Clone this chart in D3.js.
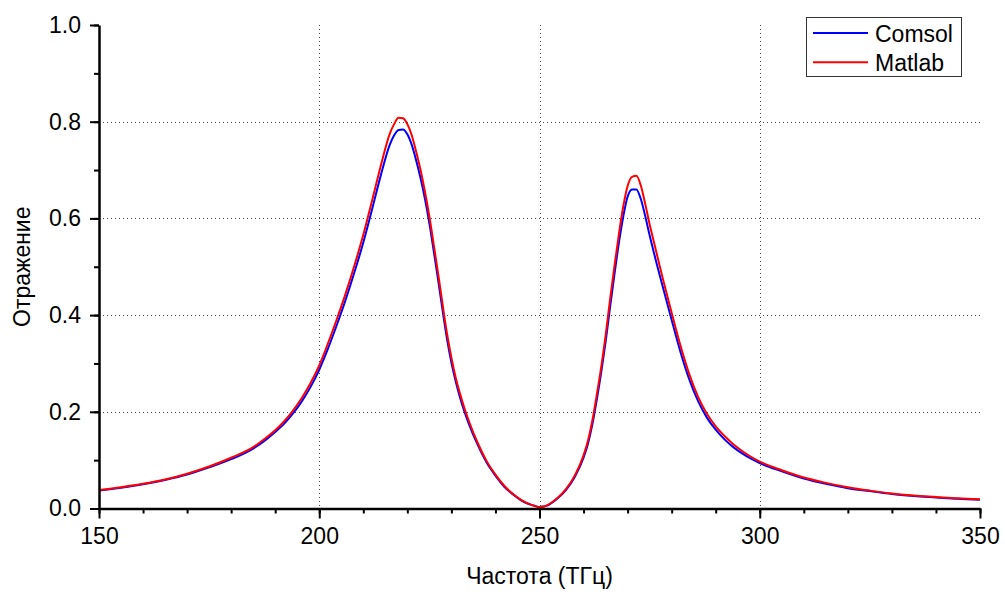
<!DOCTYPE html>
<html>
<head>
<meta charset="utf-8">
<script src="https://cdn.jsdelivr.net/npm/d3@7.9.0/dist/d3.min.js"></script>
<style>
  body { margin: 0; background: #fff; }
  svg { font-family: "Liberation Sans", Arial, sans-serif; }
  .axis path, .axis line { stroke: #000; }
  .grid line { stroke: #444; stroke-dasharray: 1,3; }
</style>
</head>
<body>
<svg id="chart" width="1005" height="594"></svg>
<script>
// Frequency grid (THz)
const freq = [150,155,160,165,170,175,180,185,188,190,192,194,196,198,200,202,204,206,208,210,212,214,216,217,218,219,220,221,222,223,224,225,226,227,228,229,230,231,232,233,234,236,238,240,242,244,246,248,249,250,251,252,253,254,256,258,260,261,262,263,264,265,266,267,268,269,270,271,272,273,274,275,276,278,280,282,284,286,288,290,292,294,296,298,300,305,310,315,320,325,330,335,340,345,350];

// Reflection values
const comsol = [0.037,0.043,0.050,0.059,0.070,0.085,0.102,0.124,0.143,0.158,0.175,0.196,0.221,0.251,0.287,0.331,0.380,0.432,0.489,0.550,0.619,0.690,0.752,0.772,0.783,0.784,0.774,0.752,0.720,0.683,0.640,0.590,0.532,0.472,0.410,0.351,0.302,0.262,0.228,0.199,0.174,0.131,0.095,0.068,0.045,0.029,0.016,0.008,0.005,0.003,0.004,0.007,0.013,0.020,0.038,0.065,0.105,0.134,0.174,0.225,0.281,0.344,0.415,0.483,0.548,0.603,0.645,0.660,0.660,0.640,0.605,0.565,0.528,0.458,0.390,0.324,0.267,0.222,0.188,0.163,0.143,0.127,0.114,0.103,0.094,0.077,0.062,0.051,0.042,0.036,0.030,0.026,0.023,0.020,0.018];

const matlab = [0.038,0.044,0.051,0.060,0.072,0.087,0.105,0.127,0.147,0.162,0.180,0.202,0.228,0.259,0.296,0.342,0.392,0.445,0.503,0.566,0.637,0.710,0.775,0.795,0.808,0.807,0.795,0.772,0.738,0.700,0.655,0.604,0.545,0.485,0.422,0.362,0.312,0.270,0.236,0.206,0.180,0.135,0.098,0.070,0.047,0.030,0.017,0.008,0.005,0.003,0.004,0.008,0.014,0.021,0.040,0.068,0.110,0.140,0.182,0.235,0.292,0.357,0.431,0.500,0.566,0.624,0.667,0.686,0.688,0.668,0.630,0.588,0.550,0.475,0.405,0.337,0.278,0.231,0.196,0.170,0.150,0.133,0.119,0.107,0.097,0.079,0.064,0.053,0.044,0.037,0.031,0.027,0.024,0.021,0.019];

const xTicks = [150, 200, 250, 300, 350];
const yTicks = [0, 0.2, 0.4, 0.6, 0.8, 1.0];
const seriesNames = ['Comsol', 'Matlab'];
const seriesColors = ['#0000ff', '#ff0000'];

const svg = d3.select('#chart');
const plotLeft = 99, plotRight = 980, plotTop = 25, plotBottom = 508.5;

const x = d3.scaleLinear().domain([150, 350]).range([plotLeft, plotRight]);
const y = d3.scaleLinear().domain([0, 1]).range([plotBottom, plotTop]);

// grid
const grid = svg.append('g').attr('class', 'grid');
grid.selectAll('.vg')
  .data(xTicks.filter(d => d > 150 && d < 350))
  .join('line')
  .attr('x1', d => Math.round(x(d)) + 0.5).attr('x2', d => Math.round(x(d)) + 0.5)
  .attr('y1', plotTop).attr('y2', plotBottom);
grid.selectAll('.hg')
  .data(yTicks.filter(d => d > 0 && d < 1))
  .join('line')
  .attr('x1', plotLeft).attr('x2', plotRight)
  .attr('y1', d => Math.round(y(d)) + 0.5).attr('y2', d => Math.round(y(d)) + 0.5);

// curves
const line = d3.line()
  .x((d, i) => x(freq[i]))
  .y(d => y(d))
  .curve(d3.curveMonotoneX);

[comsol, matlab].forEach((vals, k) => {
  svg.append('path')
    .datum(vals)
    .attr('fill', 'none')
    .attr('stroke', seriesColors[k])
    .attr('stroke-width', 2)
    .attr('d', line);
});

// minor ticks
svg.append('g')
  .attr('class', 'axis')
  .attr('transform', `translate(0,${plotBottom})`)
  .call(d3.axisBottom(x).tickValues(d3.range(150, 351, 10)).tickSize(5).tickFormat(''))
  .call(g => g.select('.domain').remove())
  .selectAll('line').attr('stroke-width', 2);
svg.append('g')
  .attr('class', 'axis')
  .attr('transform', `translate(${plotLeft},0)`)
  .call(d3.axisLeft(y).tickValues(d3.range(0, 1.01, 0.1)).tickSize(5).tickFormat(''))
  .call(g => g.select('.domain').remove())
  .selectAll('line').attr('stroke-width', 2);

// major axes
const xAxis = svg.append('g')
  .attr('class', 'axis')
  .attr('transform', `translate(0,${plotBottom})`)
  .call(d3.axisBottom(x).tickValues(xTicks).tickSize(10).tickSizeOuter(0).tickPadding(9));
xAxis.select('.domain').attr('stroke-width', 2.5);
xAxis.selectAll('line').attr('stroke-width', 2);
xAxis.selectAll('text').attr('font-size', 23).attr('fill', '#000').attr('font-family', null);

const yAxis = svg.append('g')
  .attr('class', 'axis')
  .attr('transform', `translate(${plotLeft},0)`)
  .call(d3.axisLeft(y).tickValues(yTicks).tickSize(9).tickSizeOuter(0).tickPadding(9).tickFormat(d3.format('.1f')));
yAxis.select('.domain').attr('stroke-width', 2.5);
yAxis.selectAll('line').attr('stroke-width', 2);
yAxis.selectAll('text').attr('font-size', 23).attr('fill', '#000').attr('font-family', null);

// axis titles
svg.append('text')
  .attr('x', (plotLeft + plotRight) / 2).attr('y', 584)
  .attr('text-anchor', 'middle')
  .attr('font-size', 23)
  .text('Частота (ТГц)');
svg.append('text')
  .attr('transform', `translate(30,${(plotTop + plotBottom) / 2}) rotate(-90)`)
  .attr('text-anchor', 'middle')
  .attr('font-size', 23)
  .text('Отражение');

// legend
const legend = svg.append('g');
legend.append('rect')
  .attr('x', 806.5).attr('y', 17.5).attr('width', 155).attr('height', 59)
  .attr('fill', '#fff').attr('stroke', '#333').attr('stroke-width', 1);
seriesNames.forEach((name, i) => {
  const ly = 33 + i * 29.3;
  legend.append('line')
    .attr('x1', 813).attr('x2', 868).attr('y1', ly).attr('y2', ly)
    .attr('stroke', seriesColors[i]).attr('stroke-width', 2);
  legend.append('text')
    .attr('x', 875).attr('y', ly + 8.5)
    .attr('font-size', 23)
    .text(name);
});
</script>
</body>
</html>
